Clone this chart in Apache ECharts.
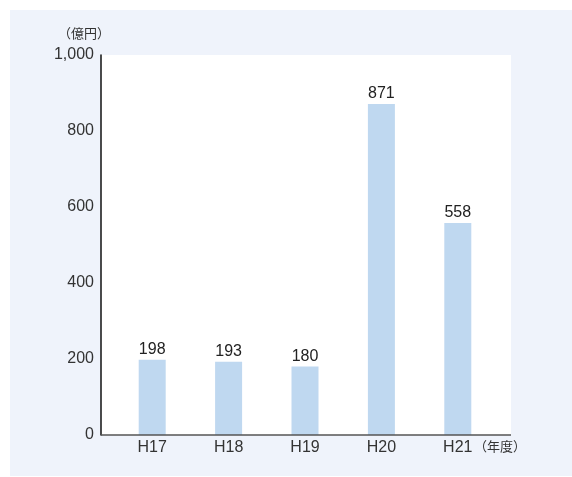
<!DOCTYPE html>
<html>
	<head>
		<meta charset="utf-8">
		<title>億円 推移</title>
		<script src="https://cdn.jsdelivr.net/npm/echarts@6/dist/echarts.min.js"></script>
		<style>
			* {
				margin: 0;
				padding: 0;
			}
			body {
				background: #ffffff;
			}
		</style>
	</head>
	<body>
		<div id="main" style="width:572px;height:477px;"></div>
		<script>
			let titleData = ['H17', 'H18', 'H19', 'H20', 'H21'];
			let dataList = [198, 193, 180, 871, 558];
			let yTicks = [0, 200, 400, 600, 800, 1000];
			let yUnit = '（億円）';
			let xUnit = '（年度）';

			let myChart = null;
			let cjkFont = "'Noto Sans CJK JP', sans-serif";
			let numFont = "'Liberation Sans', Roboto, sans-serif";

			function fresh() {
				if (myChart == null) {
					myChart = echarts.init(document.getElementById('main'));
				}
				let option = {
					backgroundColor: '#ffffff',
					animation: false,
					graphic: [
						{
							type: 'rect',
							z: -10,
							shape: { x: 10, y: 10, width: 562, height: 466 },
							style: { fill: '#eff3fb' }
						},
						{
							type: 'rect',
							z: -9,
							shape: { x: 101, y: 55, width: 410, height: 380 },
							style: { fill: '#ffffff' }
						},
						{
							type: 'line',
							z: 5,
							shape: { x1: 101, y1: 435, x2: 511, y2: 435 },
							style: { stroke: '#555555', lineWidth: 1.5 }
						},
						{
							type: 'text',
							left: 58,
							top: 27,
							style: { text: yUnit, fill: '#333333', font: '13px ' + cjkFont }
						},
						{
							type: 'text',
							left: 474,
							top: 440,
							style: { text: xUnit, fill: '#333333', font: '13px ' + cjkFont }
						}
					],
					grid: {
						left: 114,
						right: 76,
						top: 55,
						bottom: 42,
						containLabel: false
					},
					xAxis: {
						type: 'category',
						data: titleData,
						axisLine: { show: false },
						axisTick: { show: false },
						axisLabel: {
							color: '#333333',
							fontSize: 16,
							fontFamily: numFont,
							margin: 5
						},
						splitLine: { show: false }
					},
					yAxis: {
						type: 'value',
						min: yTicks[0],
						max: yTicks[yTicks.length - 1],
						interval: yTicks[1] - yTicks[0],
						offset: 13,
						axisLine: {
							show: true,
							lineStyle: { color: '#111111', width: 1.5 }
						},
						axisTick: { show: false },
						axisLabel: {
							color: '#333333',
							fontSize: 16,
							fontFamily: numFont,
							margin: 7,
							formatter: function(v) {
								return String(v).replace(/\B(?=(\d{3})+(?!\d))/g, ',');
							}
						},
						splitLine: { show: false }
					},
					series: [{
						type: 'bar',
						data: dataList,
						barWidth: 27,
						itemStyle: { color: '#bfd8f0' },
						label: {
							show: true,
							position: 'top',
							distance: 2,
							color: '#222222',
							fontSize: 16,
							fontFamily: numFont
						}
					}]
				};
				myChart.setOption(option);
			}
			fresh();
		</script>
	</body>
</html>
